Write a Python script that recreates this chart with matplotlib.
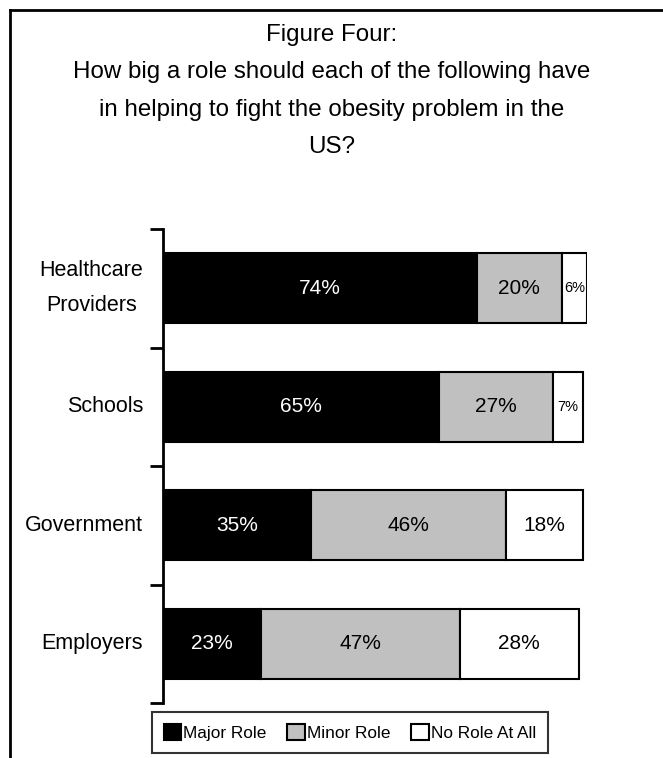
import matplotlib.pyplot as plt
from matplotlib.patches import Patch
from matplotlib.lines import Line2D
import numpy as np

plt.rcParams['font.family'] = ['Liberation Sans Narrow', 'Liberation Sans', 'DejaVu Sans']

categories = ['Healthcare\nProviders', 'Schools', 'Government', 'Employers']
major_role = [74, 65, 35, 23]
minor_role = [20, 27, 46, 47]
no_role = [6, 7, 18, 28]
series_names = ['Major Role', 'Minor Role', 'No Role At All']

W, H = 663, 758
fig = plt.figure(figsize=(W / 100, H / 100), dpi=100)

# outer frame (left and top edges)
fig.add_artist(Line2D([10 / W, 10 / W], [0, 1 - 10 / H], color='black', lw=2))
fig.add_artist(Line2D([10 / W, 1], [1 - 10 / H, 1 - 10 / H], color='black', lw=2))

fig.text(0.5, 1 - 24 / H,
         'Figure Four:\nHow big a role should each of the following have\n'
         'in helping to fight the obesity problem in the\nUS?',
         ha='center', va='top', fontsize=17.4, linespacing=1.9)

ax = fig.add_axes([163 / W, 1 - 703 / H, 424 / W, 474 / H])
y = np.arange(len(categories))
bar_h = 0.59

colors = ['black', '#c0c0c0', 'white']
text_colors = ['white', 'black', 'black']
left = np.zeros(len(categories))
for vals, c, tc in zip([major_role, minor_role, no_role], colors, text_colors):
    vals = np.array(vals)
    ax.barh(y, vals, left=left, height=bar_h, color=c, edgecolor='black', linewidth=1.5)
    for yi, l, v in zip(y, left, vals):
        fs = 10.5 if v < 10 else 15
        ax.text(l + v / 2, yi, f'{v}%', ha='center', va='center', color=tc, fontsize=fs)
    left += vals

ax.set_xlim(0, 100)
ax.set_ylim(len(categories) - 0.5, -0.5)
for s in ['top', 'right', 'bottom']:
    ax.spines[s].set_visible(False)
ax.spines['left'].set_linewidth(2)
ax.set_xticks([])
ax.set_yticks(np.arange(len(categories) + 1) - 0.5)
ax.set_yticklabels([])
ax.tick_params(axis='y', length=9.5, width=2, direction='out')

for yi, name in zip(y, categories):
    ax.text(-0.047, yi, name, transform=ax.get_yaxis_transform(), ha='right', va='center',
            multialignment='center', fontsize=15.5, linespacing=1.85)

handles = [Patch(facecolor=c, edgecolor='black', linewidth=1.5) for c in colors]
leg = fig.legend(handles, series_names, loc='center', bbox_to_anchor=(350 / W, 1 - 732.5 / H),
                 ncol=3, fontsize=12.4, frameon=True, fancybox=False, borderpad=0.7,
                 borderaxespad=0, handlelength=1.0, handleheight=1.0, handletextpad=0.15,
                 columnspacing=1.2)
leg.get_frame().set_edgecolor('black')
leg.get_frame().set_linewidth(1.5)

fig.savefig('out.png', dpi=100)
